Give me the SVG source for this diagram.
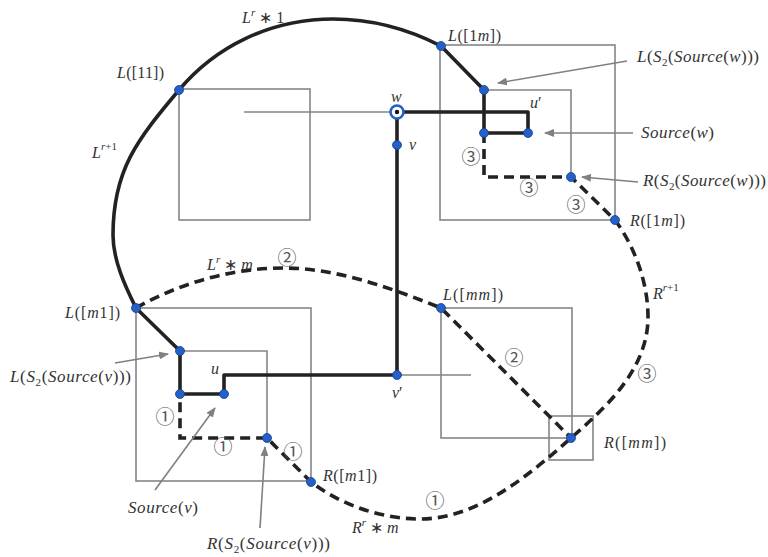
<svg xmlns="http://www.w3.org/2000/svg" width="768" height="557" viewBox="0 0 768 557">
  <defs>
    <style>
      .box { fill: none; stroke: #858585; stroke-width: 1.6; }
      .thin { fill: none; stroke: #858585; stroke-width: 1.6; }
      .thick { fill: none; stroke: #222; stroke-width: 3.6; stroke-linejoin: round; }
      .dash { fill: none; stroke: #222; stroke-width: 3.6; stroke-dasharray: 10 6; }
      .arrow { fill: none; stroke: #808080; stroke-width: 1.6; marker-end: url(#head); }
      .dot { fill: #2460c8; stroke: #163f8c; stroke-width: 0.8; }
      .t { font-family: "Liberation Serif", serif; font-style: italic; fill: #333; font-size: 16px; }
      .a { font-size: 17px; }
      .u { font-style: normal; }
      .c { font-family: "Noto Sans CJK SC", "DejaVu Sans", sans-serif; font-size: 19px; fill: #555; text-anchor: middle; }
    </style>
    <marker id="head" viewBox="0 0 10 8" refX="9" refY="4" markerWidth="10" markerHeight="8" markerUnits="userSpaceOnUse" orient="auto">
      <path d="M0,0 L10,4 L0,8 z" fill="#808080"/>
    </marker>
  </defs>

  <!-- blocks -->
  <g id="box-11"><rect class="box" x="179" y="89" width="131" height="131"/></g>
  <g id="box-1m"><rect class="box" x="440" y="45" width="175" height="175"/></g>
  <g id="box-m1"><rect class="box" x="136" y="308" width="175" height="173"/></g>
  <g id="box-mm"><rect class="box" x="441" y="308" width="131" height="130"/></g>
  <g id="box-rmm"><rect class="box" x="549" y="416" width="44" height="44"/></g>
  <g id="box-s2w"><path class="thin" d="M484,90 H571 V177"/></g>
  <g id="box-s2v"><path class="thin" d="M180,351 H267 V438"/></g>

  <!-- connectors -->
  <g id="connectors">
    <path class="thin" d="M244,112 H397"/>
    <path class="thin" d="M397,375 H471"/>
    <!-- outer left boundary L^{r+1} -->
    <path class="thick" d="M441,46 C408,29 370,19 333,19 C270,19 215,47 179,90 C137,140 113,170 113,235 C113,260 125,286 136,308 L180,351 V394 H224 V375 H397 V112 H528 V133 H484 V90 L441,46"/>
    <!-- outer right boundary R^{r+1} -->
    <path class="dash" d="M484,133 V177 H571 L615,220 C635,247 648,283 648,317 C648,370 605,408 571,438 C528,476 477,519 420,519 C382,519 341,505 311,482 L267,438 H180 V394"/>
    <!-- L^r * m -->
    <path class="dash" d="M136,308 C180,283 232,268 283,268 C337,268 391,288 441,308 L571,438"/>
    <!-- pointers -->
    <path class="arrow" d="M627,61 L498,83"/>
    <path class="arrow" d="M633,133 L545,133"/>
    <path class="arrow" d="M638,182 L582,177"/>
    <path class="arrow" d="M115,363 L168,354"/>
    <path class="arrow" d="M155,490 L215,408"/>
    <path class="arrow" d="M260,528 L265,447"/>
  </g>

  <!-- vertices -->
  <g id="points">
    <circle class="dot" cx="179" cy="90" r="4.5"/>
    <circle class="dot" cx="441" cy="46" r="4.5"/>
    <circle class="dot" cx="484" cy="90" r="4.5"/>
    <circle class="dot" cx="484" cy="133" r="4.5"/>
    <circle class="dot" cx="528" cy="133" r="4.5"/>
    <circle class="dot" cx="571" cy="177" r="4.5"/>
    <circle class="dot" cx="615" cy="220" r="4.5"/>
    <circle class="dot" cx="397" cy="145" r="4.5"/>
    <circle class="dot" cx="136" cy="308" r="4.5"/>
    <circle class="dot" cx="180" cy="351" r="4.5"/>
    <circle class="dot" cx="180" cy="394" r="4.5"/>
    <circle class="dot" cx="224" cy="394" r="4.5"/>
    <circle class="dot" cx="267" cy="438" r="4.5"/>
    <circle class="dot" cx="311" cy="482" r="4.5"/>
    <circle class="dot" cx="397" cy="375" r="4.5"/>
    <circle class="dot" cx="441" cy="308" r="4.5"/>
    <circle class="dot" cx="571" cy="438" r="4.5"/>
  </g>
  <g id="node-w">
    <circle cx="397" cy="112" r="6.5" fill="#fff" stroke="#2460c8" stroke-width="2.6"/>
    <circle cx="397" cy="112" r="2.2" fill="#111"/>
  </g>

  <!-- labels -->
  <g id="labels">
    <text class="t" x="242" y="23">L<tspan font-size="11" dy="-7">r</tspan><tspan class="u" dy="7"> ∗ 1</tspan></text>
    <text class="t" x="117" y="78" textLength="47">L<tspan class="u">([11])</tspan></text>
    <text class="t" x="92" y="158">L<tspan font-size="11" dy="-8">r</tspan><tspan class="u" font-size="11">+1</tspan></text>
    <text class="t" x="391" y="102">w</text>
    <text class="t" x="409" y="150">v</text>
    <text class="t" x="530" y="108">u<tspan class="u">′</tspan></text>
    <text class="t" x="448" y="41" textLength="53">L<tspan class="u">([1</tspan>m<tspan class="u">])</tspan></text>
    <text class="t a" x="637" y="62" textLength="122">L<tspan class="u">(</tspan>S<tspan class="u" font-size="11" dy="4">2</tspan><tspan class="u" dy="-4">(</tspan>Source<tspan class="u">(</tspan>w<tspan class="u">)))</tspan></text>
    <text class="t a" x="641" y="138" textLength="73">Source<tspan class="u">(</tspan>w<tspan class="u">)</tspan></text>
    <text class="t a" x="643" y="186" textLength="123">R<tspan class="u">(</tspan>S<tspan class="u" font-size="11" dy="4">2</tspan><tspan class="u" dy="-4">(</tspan>Source<tspan class="u">(</tspan>w<tspan class="u">)))</tspan></text>
    <text class="t" x="630" y="226" textLength="55">R<tspan class="u">([1</tspan>m<tspan class="u">])</tspan></text>
    <text class="t" x="207" y="270">L<tspan font-size="11" dy="-7">r</tspan><tspan class="u" dy="7"> ∗ </tspan>m</text>
    <text class="t" x="65" y="318" textLength="55">L<tspan class="u">([</tspan>m<tspan class="u">1])</tspan></text>
    <text class="t a" x="10" y="382" textLength="121">L<tspan class="u">(</tspan>S<tspan class="u" font-size="11" dy="4">2</tspan><tspan class="u" dy="-4">(</tspan>Source<tspan class="u">(</tspan>v<tspan class="u">)))</tspan></text>
    <text class="t" x="211" y="374">u</text>
    <text class="t a" x="128" y="513" textLength="70">Source<tspan class="u">(</tspan>v<tspan class="u">)</tspan></text>
    <text class="t a" x="207" y="549" textLength="123">R<tspan class="u">(</tspan>S<tspan class="u" font-size="11" dy="4">2</tspan><tspan class="u" dy="-4">(</tspan>Source<tspan class="u">(</tspan>v<tspan class="u">)))</tspan></text>
    <text class="t" x="323" y="481" textLength="54">R<tspan class="u">([</tspan>m<tspan class="u">1])</tspan></text>
    <text class="t" x="352" y="533">R<tspan font-size="11" dy="-7">r</tspan><tspan class="u" dy="7"> ∗ </tspan>m</text>
    <text class="t" x="443" y="300" textLength="60">L<tspan class="u">([</tspan>mm<tspan class="u">])</tspan></text>
    <text class="t" x="392" y="398">v<tspan class="u">′</tspan></text>
    <text class="t" x="653" y="299">R<tspan font-size="11" dy="-8">r</tspan><tspan class="u" font-size="11">+1</tspan></text>
    <text class="t" x="604" y="448" textLength="62">R<tspan class="u">([</tspan>mm<tspan class="u">])</tspan></text>
  </g>
  <g id="step-marks">
    <text class="c" x="471" y="164">③</text>
    <text class="c" x="529" y="195">③</text>
    <text class="c" x="576" y="212">③</text>
    <text class="c" x="647" y="381">③</text>
    <text class="c" x="287" y="265">②</text>
    <text class="c" x="514" y="365">②</text>
    <text class="c" x="165" y="424">①</text>
    <text class="c" x="223" y="454">①</text>
    <text class="c" x="293" y="459">①</text>
    <text class="c" x="435" y="508">①</text>
  </g>
</svg>
